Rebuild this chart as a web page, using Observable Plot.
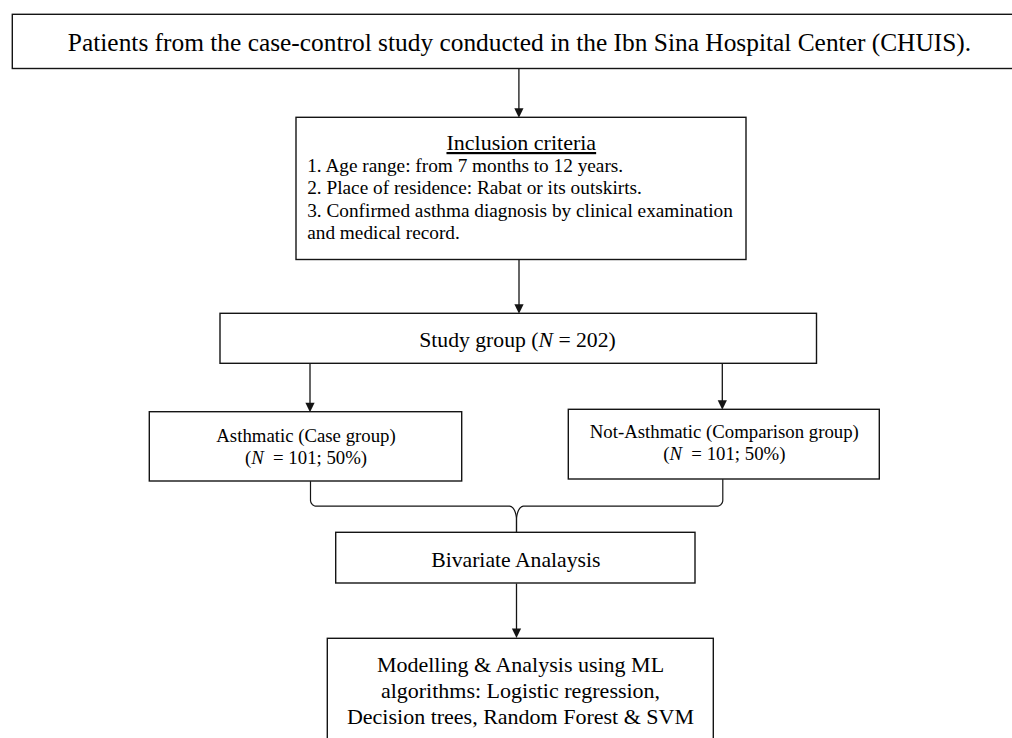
<!DOCTYPE html>
<html>
<head>
<meta charset="utf-8">
<script src="https://cdn.jsdelivr.net/npm/d3@7"></script>
<script src="https://cdn.jsdelivr.net/npm/@observablehq/plot@0.6"></script>
<style>
  html, body { margin: 0; padding: 0; background: #ffffff; overflow: hidden; }
</style>
</head>
<body>
<div id="chart"></div>
<script>
// ---------- content (text of the flowchart) ----------
const sourceLabel = ["Patients from the case-control study conducted in the Ibn Sina Hospital Center (CHUIS)."];
const criteriaTitle = ["Inclusion criteria"];
const criteriaItems = [
  "1. Age range: from 7 months to 12 years.",
  "2. Place of residence: Rabat or its outskirts.",
  "3. Confirmed asthma diagnosis by clinical examination",
  "and medical record."
];
const totalN = 202;
const studyLabel = [`Study group (N = ${totalN})`];
const groupNames = ["Asthmatic (Case group)", "Not-Asthmatic (Comparison group)"];
const groupN = [101, 101];
const groupPct = [50, 50];
const analysisLabel = ["Bivariate Analaysis"];
const modelLines = [
  "Modelling & Analysis using ML",
  "algorithms: Logistic regression,",
  "Decision trees, Random Forest & SVM"
];

// ---------- layout (pixel geometry of the diagram) ----------
const W = 1012, H = 738;
const layout = {
  boxes: [
    {id: "source",    x1: 12.3,  x2: 1030,  y1: 14.3,  y2: 68.5},
    {id: "criteria",  x1: 296,   x2: 746,   y1: 117.3, y2: 259.5},
    {id: "study",     x1: 220,   x2: 816.5, y1: 313.3, y2: 363.3},
    {id: "case",      x1: 149.3, x2: 461.7, y1: 411.7, y2: 481},
    {id: "control",   x1: 568.3, x2: 879.3, y1: 409.3, y2: 479},
    {id: "bivariate", x1: 335.7, x2: 695,   y1: 532.3, y2: 583},
    {id: "model",     x1: 327.3, x2: 713.3, y1: 638.3, y2: 770}
  ],
  arrows: [
    {x: 518.4, y1: 68.5,  y2: 117.3},
    {x: 518.5, y1: 259.5, y2: 313.3},
    {x: 309.5, y1: 363.3, y2: 411.7},
    {x: 721.8, y1: 363.3, y2: 409.3},
    {x: 516,   y1: 583,   y2: 637.5}
  ],
  brace: {xl: 310, xr: 722.3, yl: 481, yr: 479, yh: 505.7, xm: 516, ytip: 532.3},
  text: {
    source:   {x: 519,   y: [50.7]},
    title:    {x: 520.8, y: [149.5]},
    items:    {x: 306.7, y: [171.7, 193.9, 216.1, 238.3]},
    study:    {x: 517,   y: [346.7]},
    case:     {x: 305.5, y: [441.7, 463.3]},
    control:  {x: 723.8, y: [437, 459]},
    analysis: {x: 515.3, y: [566]},
    model:    {x: 520,   y: [671.7, 697.3, 723.3]}
  }
};

// ---------- derived tables ----------
const groupLines = groupNames.map((name, i) => [name, `(N\u00a0 = ${groupN[i]}; ${groupPct[i]}%)`]);
function rows(lines, key) {
  const t = layout.text[key];
  return lines.map((s, i) => ({x: t.x, y: t.y[i], text: s}));
}

// brace geometry (two halves meeting at a downward cusp)
function braceHalf(side) {
  const b = layout.brace;
  const sgn = side === "left" ? 1 : -1;
  const xv = side === "left" ? b.xl : b.xr;
  const yv = side === "left" ? b.yl : b.yr;
  const rc = 6, rxm = 7, rym = 14;
  const pts = [{x: xv, y: yv}];
  const steps = 10;
  for (let k = 0; k <= steps; k++) {
    const t = (k / steps) * Math.PI / 2;
    pts.push({x: xv + sgn * (rc - rc * Math.cos(t)), y: b.yh - rc + rc * Math.sin(t)});
  }
  const xs = b.xm - sgn * rxm;
  for (let k = 0; k <= steps; k++) {
    const t = (k / steps) * Math.PI / 2;
    pts.push({x: xs + sgn * rxm * Math.sin(t), y: b.yh + rym - rym * Math.cos(t)});
  }
  pts.push({x: b.xm, y: b.ytip});
  return pts.map(p => ({...p, side}));
}
const bracePts = [...braceHalf("left"), ...braceHalf("right")];

const arrowHead = {
  draw(ctx) {
    ctx.moveTo(0, 0);
    ctx.lineTo(-4.6, -9.5);
    ctx.lineTo(4.6, -9.5);
    ctx.closePath();
  }
};

const ink = "#141414";
const serif = "Liberation Serif, Times New Roman, serif";
const textOpts = (size, anchor = "middle") => ({
  x: "x", y: "y", text: "text", fontSize: size, fontFamily: serif,
  textAnchor: anchor, lineAnchor: "bottom", fill: "#000"
});

const chart = Plot.plot({
  width: W,
  height: H,
  margin: 0,
  x: {domain: [0, W], range: [0, W], axis: null},
  y: {domain: [0, H], range: [0, H], axis: null},
  style: {background: "#ffffff", overflow: "hidden"},
  marks: [
    Plot.link(layout.arrows, {x1: "x", x2: "x", y1: "y1", y2: d => d.y2 - 4, stroke: ink, strokeWidth: 1.3}),
    Plot.dot(layout.arrows, {x: "x", y: "y2", symbol: arrowHead, fill: ink, stroke: null, r: 5}),
    Plot.line(bracePts, {x: "x", y: "y", z: "side", stroke: ink, strokeWidth: 1.2, curve: "linear"}),
    Plot.rect(layout.boxes, {x1: "x1", x2: "x2", y1: "y1", y2: "y2", fill: "#ffffff", stroke: ink, strokeWidth: 1.4}),
    Plot.text(rows(sourceLabel, "source"), textOpts(25.4)),
    Plot.text(rows(criteriaTitle, "title"), textOpts(22)),
    Plot.text(rows(criteriaItems, "items"), textOpts(19.3, "start")),
    Plot.text(rows(studyLabel, "study"), textOpts(21.7)),
    Plot.text(rows(groupLines[0], "case"), textOpts(18.8)),
    Plot.text(rows(groupLines[1], "control"), textOpts(18.8)),
    Plot.text(rows(analysisLabel, "analysis"), textOpts(21.7)),
    Plot.text(rows(modelLines, "model"), textOpts(22))
  ]
});

// underline the criteria title, italicise the statistical symbol N
chart.querySelectorAll("text").forEach(t => {
  const s = t.textContent;
  if (s === criteriaTitle[0]) t.style.textDecoration = "underline";
  const m = s.match(/\(N[\s\u00a0]/);
  if (m) {
    const i = m.index + 1;
    t.textContent = "";
    t.appendChild(document.createTextNode(s.slice(0, i)));
    const ts = document.createElementNS("http://www.w3.org/2000/svg", "tspan");
    ts.setAttribute("font-style", "italic");
    ts.textContent = "N";
    t.appendChild(ts);
    t.appendChild(document.createTextNode(s.slice(i + 1)));
  }
});

document.getElementById("chart").appendChild(chart);
</script>
</body>
</html>
